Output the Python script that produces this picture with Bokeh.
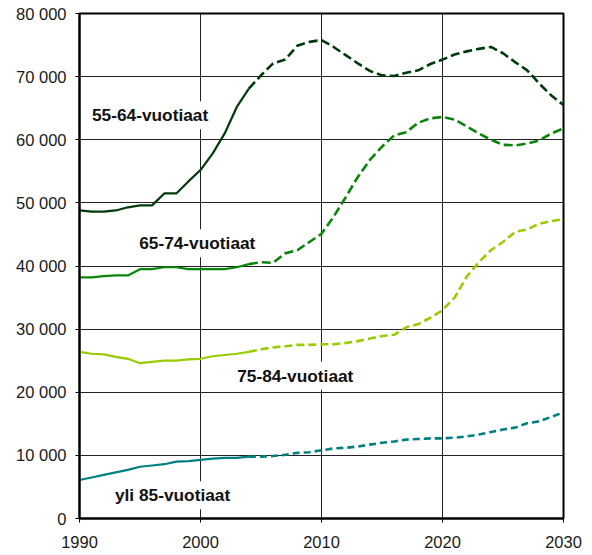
from bokeh.plotting import figure
from bokeh.models import Label, CustomJSTickFormatter, Range1d
from bokeh.embed import file_html
from bokeh.resources import INLINE

years = list(range(1990, 2031))
s55 = [48800, 48600, 48600, 48800, 49300, 49600, 49600, 51500, 51500, 53400,
       55200, 57800, 61000, 65200, 68100, 70200, 72100, 72700, 74900, 75500,
       75800, 74700, 73400, 72100, 70900, 70200, 70100, 70600, 71000, 72000,
       72700, 73500, 74000, 74400, 74700, 73700, 72300, 71000, 68900, 67000, 65500]
s65 = [38200, 38200, 38400, 38500, 38500, 39500, 39500, 39800, 39800, 39500,
       39500, 39500, 39500, 39800, 40300, 40600, 40500, 42000, 42500, 43800,
       45100, 47800, 50900, 54100, 56800, 58900, 60700, 61200, 62700, 63400,
       63600, 63200, 62100, 61000, 60000, 59200, 59100, 59400, 59900, 61000, 61800]
s75 = [26400, 26100, 26000, 25600, 25300, 24600, 24800, 25000, 25000, 25200,
       25300, 25700, 25900, 26100, 26400, 26800, 27100, 27300, 27500, 27500,
       27600, 27600, 27800, 28100, 28500, 28900, 29100, 30300, 30800, 31800,
       33000, 35000, 38300, 40600, 42500, 43800, 45400, 45800, 46700, 47100, 47400]
s85 = [6100, 6500, 6900, 7300, 7700, 8200, 8400, 8600, 9000, 9100,
       9300, 9500, 9600, 9600, 9800, 9800, 9900, 10100, 10400, 10500,
       10800, 11100, 11200, 11400, 11700, 12000, 12200, 12500, 12600, 12700,
       12700, 12800, 13000, 13300, 13700, 14100, 14400, 15100, 15400, 16100, 16800]

series_names = ["55-64-vuotiaat", "65-74-vuotiaat", "75-84-vuotiaat", "yli 85-vuotiaat"]
series_values = [s55, s65, s75, s85]
colors = ["#003a0a", "#0a850a", "#99cc00", "#008080"]
dashes = ["9 4", "9 4", "8 4", "7 4"]
last_actual = 2004
x_ticks = [1990, 2000, 2010, 2020, 2030]
y_ticks = list(range(0, 80001, 10000))
label_pos = [(1990.7, 63900), (1994.6, 43600), (2002.7, 22600), (1992.6, 3700)]

FONT = "Liberation Sans"

p = figure(width=592, height=555, x_range=Range1d(1990, 2030), y_range=Range1d(0, 80000),
           output_backend="svg", toolbar_location=None,
           min_border_left=79, min_border_right=29, min_border_top=13, min_border_bottom=37)
p.background_fill_color = "white"
p.border_fill_color = "white"
p.outline_line_color = "black"
p.outline_line_width = 2

p.xaxis.ticker = x_ticks
p.yaxis.ticker = y_ticks
p.yaxis.formatter = CustomJSTickFormatter(code="""
return tick.toFixed(0).replace(/\\B(?=(\\d{3})+(?!\\d))/g, " ");
""")
for ax in (p.xaxis, p.yaxis):
    ax.axis_line_color = "black"
    ax.axis_line_width = 2
    ax.major_tick_line_color = "black"
    ax.major_tick_line_width = 1
    ax.major_tick_in = 0
    ax.major_tick_out = 4
    ax.minor_tick_line_color = None
    ax.major_label_text_font = FONT
    ax.major_label_text_font_size = "16.5px"
    ax.major_label_text_color = "#1a1a1a"
p.xaxis.major_label_standoff = 13
p.yaxis.major_label_standoff = 9

p.grid.grid_line_color = "#222222"
p.grid.grid_line_width = 1
p.grid.level = "underlay"

split = years.index(last_actual)
for vals, col, dash in zip(series_values, colors, dashes):
    p.line(years[:split + 1], vals[:split + 1], line_color=col, line_width=2.2)
    p.line(years[split:], vals[split:], line_color=col, line_width=2.6, line_dash=dash)

for name, (lx, ly) in zip(series_names, label_pos):
    p.add_layout(Label(x=lx, y=ly, text=name, text_font=FONT, text_font_style="bold",
                       text_font_size="17.3px", text_color="#111111",
                       text_baseline="middle", text_align="left",
                       background_fill_color="white", padding=4))

open("out.html", "w").write(file_html(p, INLINE))
